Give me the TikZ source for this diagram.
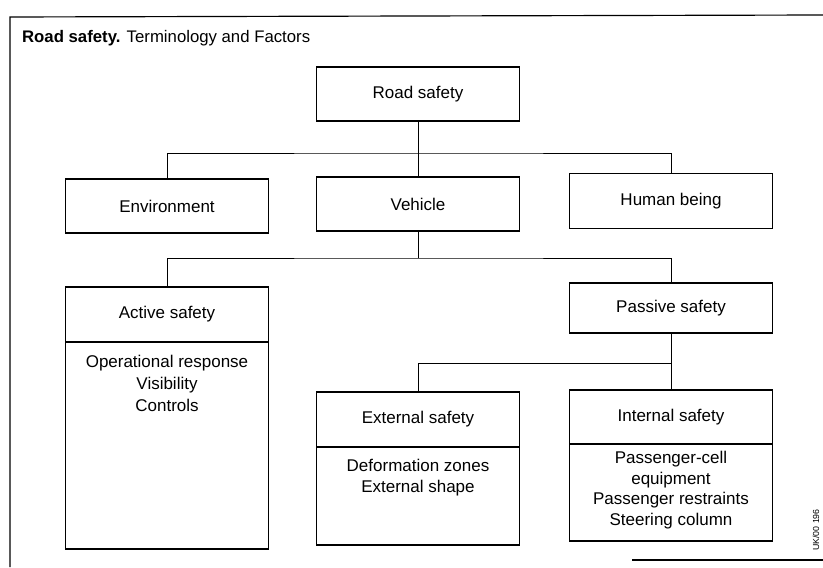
\documentclass[tikz,border=0pt]{standalone}
\usepackage{fontspec}
\setmainfont{Liberation Sans}
\usetikzlibrary{positioning}

\tikzset{
  box/.style={draw, line width=1pt, minimum width=6.09cm, inner sep=0pt,
    outer sep=0pt, font=\fontsize{14.5}{17.5}\selectfont},
  txt/.style={align=center, font=\fontsize{14.5}{18.5}\selectfont},
  link/.style={line width=0.8pt},
}

\begin{document}
\begin{tikzpicture}[x=0.03cm, y=-0.03cm]
  \useasboundingbox (0,0) rectangle (823,567);
  % frame and title
  \draw[line width=1pt] (10,567) -- (10,17) -- (823,15);
  \draw[line width=1pt] (632,560) -- (823,560);
  \node[anchor=west, font=\fontsize{14.3}{17}\selectfont] (title) at (18,38)
    {\textbf{Road safety.} Terminology and Factors};
  \node[rotate=90, font=\fontsize{7.5}{9}\selectfont] (ref) at (816,530) {UK/00 196};

  % top level
  \node[box, minimum height=1.62cm] (road) at (418,94) {Road safety};
  \node[box, minimum height=1.62cm] (env) at (167,206) {Environment};
  \node[box, minimum height=1.62cm] (veh) at (418,204) {Vehicle};
  \node[box, minimum height=1.65cm] (human) at (671,201) {Human being};

  % active / passive
  \node[box, minimum height=1.65cm] (active) at (167,314.5) {Active safety};
  \node[box, minimum height=6.21cm, below=0pt of active] (activebody) {};
  \node[txt] (activetxt) at (167,383.5) {Operational response\\Visibility\\Controls};
  \node[box, minimum height=1.5cm] (passive) at (671,308) {Passive safety};

  % external / internal
  \node[box, minimum height=1.65cm] (ext) at (418,419.5) {External safety};
  \node[box, minimum height=2.94cm, below=0pt of ext] (extbody) {};
  \node[txt] (exttxt) at (418,477.5) {Deformation zones\\External shape};
  \node[box, minimum height=1.62cm] (int) at (671,417) {Internal safety};
  \node[box, minimum height=2.91cm, below=0pt of int] (intbody) {};
  \node[txt, font=\fontsize{14.5}{17.5}\selectfont] (inttxt) at (671,490)
    {Passenger-cell\\equipment\\Passenger restraints\\Steering column};

  % connectors
  \coordinate (j1) at (418,153);
  \coordinate (j2) at (418,258);
  \coordinate (j3) at (671,363);
  \draw[link] (road) -- (veh);
  \draw[link] (env.north) |- (j1) -| (human.north);
  \draw[link] (veh) -- (j2);
  \draw[link] (active.north) |- (j2) -| (passive.north);
  \draw[link] (passive) -- (int);
  \draw[link] (ext.north) |- (j3);
\end{tikzpicture}
\end{document}
